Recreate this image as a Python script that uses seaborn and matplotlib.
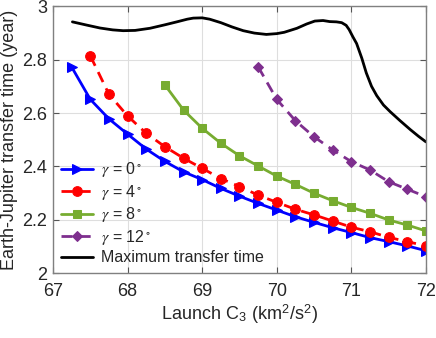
import matplotlib
matplotlib.use("Agg")
import matplotlib.pyplot as plt
import seaborn as sns
import pandas as pd
import numpy as np
from matplotlib.legend_handler import HandlerLine2D

# ---- data ----
c3_g0 = [67.25, 67.5, 67.75, 68.0, 68.25, 68.5, 68.75, 69.0, 69.25, 69.5,
         69.75, 70.0, 70.25, 70.5, 70.75, 71.0, 71.25, 71.5, 71.75, 72.0]
t_g0 = [2.772, 2.651, 2.578, 2.521, 2.465, 2.419, 2.38, 2.351, 2.318, 2.289,
        2.262, 2.237, 2.212, 2.191, 2.171, 2.153, 2.134, 2.119, 2.103, 2.085]

c3_g4 = [67.5, 67.75, 68.0, 68.25, 68.5, 68.75, 69.0, 69.25, 69.5,
         69.75, 70.0, 70.25, 70.5, 70.75, 71.0, 71.25, 71.5, 71.75, 72.0]
t_g4 = [2.814, 2.67, 2.589, 2.524, 2.474, 2.431, 2.393, 2.355, 2.325,
        2.293, 2.266, 2.24, 2.219, 2.196, 2.173, 2.156, 2.135, 2.119, 2.103]

c3_g8 = [68.5, 68.75, 69.0, 69.25, 69.5, 69.75, 70.0, 70.25, 70.5,
         70.75, 71.0, 71.25, 71.5, 71.75, 72.0]
t_g8 = [2.705, 2.611, 2.543, 2.487, 2.44, 2.402, 2.364, 2.333, 2.30,
        2.272, 2.247, 2.225, 2.2, 2.181, 2.159]

c3_g12 = [69.75, 70.0, 70.25, 70.5, 70.75, 71.0, 71.25, 71.5, 71.75, 72.0]
t_g12 = [2.773, 2.651, 2.571, 2.511, 2.462, 2.418, 2.387, 2.343, 2.315, 2.287]

c3_max = [67.26, 67.45, 67.63, 67.8, 67.94, 68.1, 68.3, 68.5, 68.66, 68.8, 68.88,
          69.0, 69.1, 69.25, 69.4, 69.55, 69.7, 69.86, 70.0, 70.1, 70.27, 70.4,
          70.51, 70.62, 70.71, 70.8, 70.87, 70.93, 70.97, 71.02, 71.07, 71.14,
          71.2, 71.27, 71.34, 71.43, 71.52, 71.65, 71.79, 71.9, 72.0]
t_max = [2.941, 2.929, 2.918, 2.911, 2.908, 2.909, 2.917, 2.93, 2.941, 2.951, 2.955,
         2.956, 2.951, 2.938, 2.922, 2.908, 2.899, 2.894, 2.897, 2.902, 2.917, 2.933,
         2.944, 2.946, 2.942, 2.941, 2.938, 2.928, 2.912, 2.885, 2.86, 2.805,
         2.75, 2.7, 2.665, 2.63, 2.605, 2.572, 2.538, 2.513, 2.492]

labels = [r'$\gamma$ = 0$^\circ$', r'$\gamma$ = 4$^\circ$',
          r'$\gamma$ = 8$^\circ$', r'$\gamma$ = 12$^\circ$', 'Maximum transfer time']
xticks = [67, 68, 69, 70, 71, 72]
yticks = [2.0, 2.2, 2.4, 2.6, 2.8, 3.0]
ytick_labels = ['2', '2.2', '2.4', '2.6', '2.8', '3']
xlabel = r'Launch C$_\mathregular{3}$ (km$^\mathregular{2}$/s$^\mathregular{2}$)'
ylabel = 'Earth-Jupiter transfer time (year)'

# ---- style ----
sns.set_theme(style="white")
plt.rcParams['font.family'] = ['Liberation Sans', 'DejaVu Sans']
plt.rcParams['mathtext.fontset'] = 'stix'

fig = plt.figure(figsize=(4.36, 3.38), dpi=100)
ax = fig.add_axes([0.1216, 0.191, 0.977 - 0.1216, 0.982 - 0.191])

series = [
    (c3_g0, t_g0, '#0000ff', '-', '>', 7, labels[0]),
    (c3_g4, t_g4, '#ff0000', (0, (4, 2.5)), 'o', 7, labels[1]),
    (c3_g8, t_g8, '#77ac30', '-', 's', 5.5, labels[2]),
    (c3_g12, t_g12, '#7e2f8e', (0, (4, 2.5)), 'D', 5.5, labels[3]),
]
for xs, ys, col, ls, mk, ms, lab in series:
    df = pd.DataFrame({'x': xs, 'y': ys})
    sns.lineplot(data=df, x='x', y='y', ax=ax, color=col, linestyle=ls,
                 marker=mk, markersize=ms, markeredgecolor=col,
                 markerfacecolor=col, linewidth=2, label=lab)

dfm = pd.DataFrame({'x': c3_max, 'y': t_max})
sns.lineplot(data=dfm, x='x', y='y', ax=ax, color='black', linewidth=2,
             label=labels[4], zorder=1)

ax.set_xlim(67, 72)
ax.set_ylim(2, 3)
ax.set_xticks(xticks)
ax.set_xticklabels([str(v) for v in xticks])
ax.set_yticks(yticks)
ax.set_yticklabels(ytick_labels)
ax.grid(True, color='#dedede', linewidth=0.8)
ax.set_axisbelow(True)
ax.tick_params(direction='in', length=4, width=0.8, color='#555555',
               labelsize=13, labelcolor='#262626', top=True, right=True,
               bottom=True, left=True, pad=4)
ax.tick_params(axis='x', pad=7)
for s in ax.spines.values():
    s.set_color('#808080')
    s.set_linewidth(1.0)
ax.set_xlabel(xlabel, fontsize=13, color='#262626', labelpad=2)
ax.set_ylabel(ylabel, fontsize=13, color='#262626', labelpad=3)


class RightMarkerHandler(HandlerLine2D):
    def get_xdata(self, legend, xdescent, ydescent, width, height, fontsize):
        xdata = np.array([-xdescent, -xdescent + width], float)
        xdata_marker = np.array([-xdescent + 0.72 * width], float)
        return xdata, xdata_marker


handles, labs = ax.get_legend_handles_labels()
leg = ax.legend(handles, labs, loc='lower left', fontsize=11.5, frameon=False,
                handlelength=2.0, labelspacing=0.22, borderpad=0.2,
                handletextpad=0.5, borderaxespad=0.3,
                handler_map={h: RightMarkerHandler() for h in handles})

fig.savefig('out.png', dpi=100)
